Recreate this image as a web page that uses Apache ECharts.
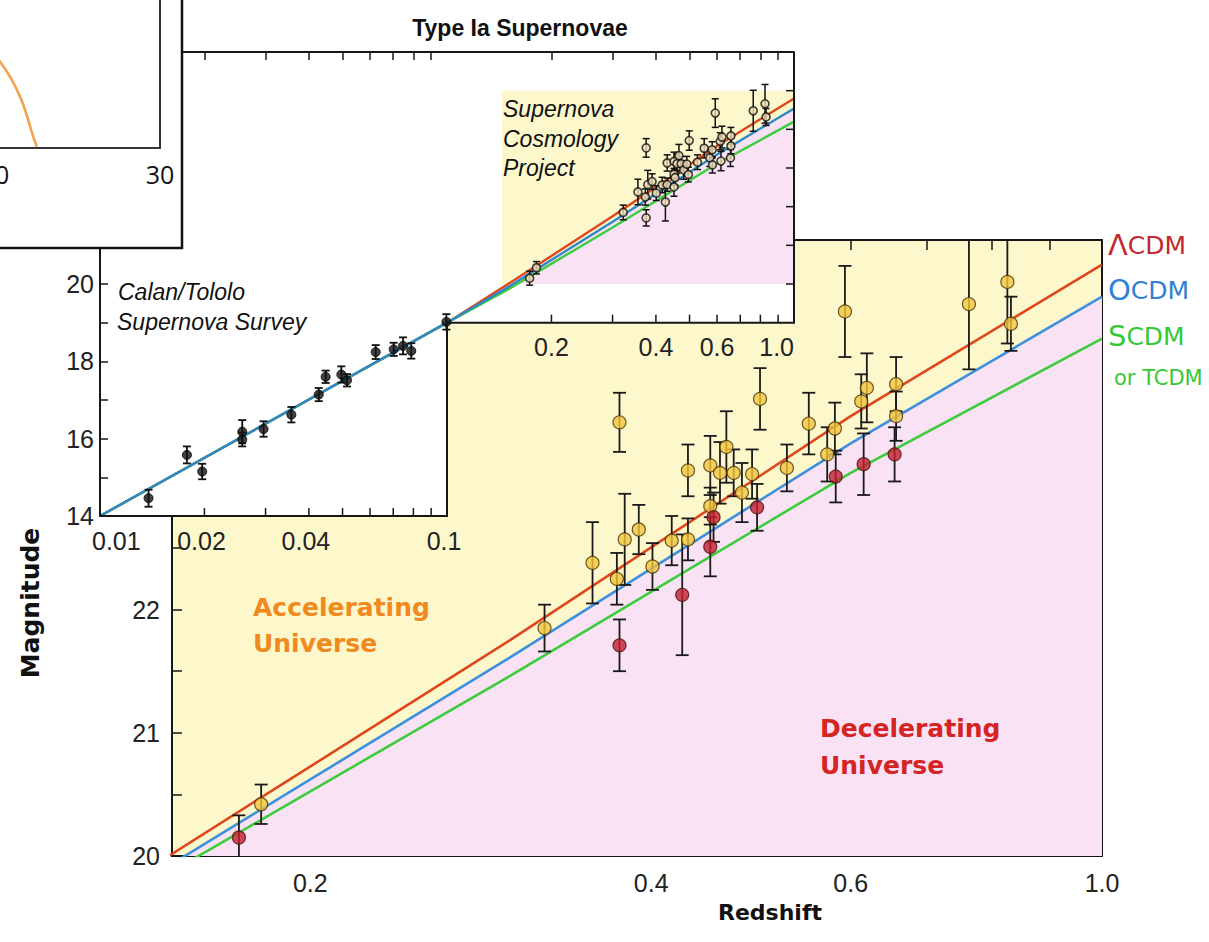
<!DOCTYPE html>
<html><head><meta charset="utf-8">
<script src="https://cdn.jsdelivr.net/npm/echarts@6/dist/echarts.min.js"></script>
<style>html,body{margin:0;padding:0;background:#fff;overflow:hidden}#c{width:1209px;height:942px}</style>
</head><body><div id="c"></div>
<script>
// ================= DATA =================
// main chart axes
const mainXTicks = [0.2, 0.3, 0.4, 0.5, 0.6, 0.7, 0.8, 0.9];
const mainXLabels = [0.2, 0.4, 0.6, 1.0];
const mainXLabelText = ['0.2', '0.4', '0.6', '1.0'];
const mainYTicks = [20.5, 21, 21.5, 22, 22.5, 23, 23.5, 24, 24.5];
const mainYLabels = [20, 21, 22, 23, 24];

// inset axes
const insetTopTicks = [0.02, 0.03, 0.04, 0.05, 0.06, 0.07, 0.08, 0.09, 0.2, 0.3, 0.4, 0.5, 0.6, 0.7, 0.8, 0.9];
const insetLowTicks = [0.02, 0.03, 0.04, 0.05, 0.06, 0.07, 0.08, 0.09];
const insetHighTicks = [0.2, 0.3, 0.4, 0.5, 0.6, 0.7, 0.8, 0.9];
const insetLowLabels = [0.01, 0.02, 0.04, 0.1];
const insetLowLabelText = ['0.01', '0.02', '0.04', '0.1'];
const insetHighLabels = [0.2, 0.4, 0.6, 1.0];
const insetHighLabelText = ['0.2', '0.4', '0.6', '1.0'];
const insetYTicks = [15, 16, 17, 18, 19, 20, 21, 22, 23, 24, 25];
const insetYLabels = [14, 16, 18, 20, 22, 24];
const insetRightTicks = [20, 21, 22, 23, 24, 25];
// inset outline (L shape) and shaded high-z window
const frameZ = [0.01, 1.0, 1.0, 0.1, 0.1, 0.01];
const frameM = [26, 26, 19, 19, 14, 14];
const shadeZ = [0.144, 1.0];
const shadeM = [20, 25];

// model curves
const modelZ = [0.01, 0.1, 0.15, 0.3, 0.6, 1.0];
const lambdaCDM = [14.0, 19.0, 20.0, 21.75, 23.57, 24.80];
const openCDM   = [14.0, 19.0, 19.92, 21.61, 23.35, 24.54];
const flatCDM   = [14.0, 19.0, 19.86, 21.46, 23.11, 24.20];

// high-redshift supernovae (yellow)
const scpZ   = [0.181, 0.322, 0.355, 0.373, 0.375, 0.379, 0.390, 0.401, 0.417, 0.431, 0.431, 0.451, 0.451, 0.460, 0.466, 0.473, 0.481, 0.491, 0.499, 0.527, 0.551, 0.572, 0.581, 0.593, 0.613, 0.620, 0.658, 0.658, 0.763, 0.825, 0.831];
const scpM   = [20.42, 21.85, 22.38, 22.25, 23.52, 22.57, 22.65, 22.35, 22.56, 22.57, 23.13, 22.84, 23.17, 23.11, 23.32, 23.11, 22.95, 23.10, 23.71, 23.15, 23.51, 23.26, 23.47, 24.42, 23.69, 23.80, 23.57, 23.83, 24.48, 24.66, 24.32];
const scpErr = [0.16, 0.19, 0.33, 0.21, 0.24, 0.37, 0.20, 0.19, 0.20, 0.17, 0.21, 0.15, 0.24, 0.25, 0.29, 0.19, 0.24, 0.20, 0.25, 0.19, 0.25, 0.22, 0.21, 0.37, 0.22, 0.28, 0.20, 0.22, 0.53, 0.50, 0.22];
// high-redshift supernovae (red)
const redZ   = [0.173, 0.375, 0.426, 0.451, 0.454, 0.496, 0.582, 0.616, 0.656];
const redM   = [20.15, 21.71, 22.12, 22.51, 22.75, 22.83, 23.08, 23.18, 23.26];
const redErr = [0.18, 0.21, 0.49, 0.24, 0.20, 0.19, 0.21, 0.25, 0.22];

// Calan/Tololo low-redshift supernovae
const ctZ   = [0.0138, 0.0178, 0.0197, 0.0257, 0.0257, 0.0296, 0.0356, 0.0427, 0.0447, 0.0496, 0.0515, 0.0623, 0.0702, 0.0747, 0.0789, 0.0996];
const ctM   = [14.46, 15.58, 15.15, 16.18, 15.98, 16.25, 16.62, 17.14, 17.60, 17.66, 17.51, 18.24, 18.31, 18.40, 18.27, 19.02];
const ctErr = [0.22, 0.22, 0.20, 0.30, 0.18, 0.20, 0.20, 0.17, 0.16, 0.21, 0.16, 0.18, 0.17, 0.22, 0.20, 0.20];

// top-left overlapping box (fragment of another plot)
const boxXTicks = [10, 20, 30];
const boxCurveX = [20.0, 20.30, 20.91, 21.52, 21.92, 22.22, 22.53];
const boxCurveY = [3.70, 3.48, 2.87, 2.07, 1.33, 0.66, 0.05];

// ================= STYLE =================
const L = Math.log10;
const YEL = '#fcf8cc', PINK = '#f9e2f3';
const C_RED = '#e0461c', C_BLUE = '#3d8fe0', C_GREEN = '#3ccc3c';
const INK = '#161616';
const TICKFONT = 'Liberation Sans';

const xy = (zs, ms) => zs.map((z, i) => [L(z), ms[i]]);
const xye = (zs, ms, es) => zs.map((z, i) => [L(z), ms[i], es[i]]);
const pick = (vals, texts) => v => { const i = vals.findIndex(t => Math.abs(L(t) - v) < 1e-6); return i >= 0 ? texts[i] : ''; };

function errBars(cap, width, color) {
  return function (params, api) {
    const x = api.value(0), y = api.value(1), e = api.value(2);
    const t = api.coord([x, y + e]), b = api.coord([x, y - e]);
    const st = { stroke: color, lineWidth: width };
    return { type: 'group', children: [
      { type: 'line', shape: { x1: t[0], y1: t[1], x2: b[0], y2: b[1] }, style: st },
      { type: 'line', shape: { x1: t[0] - cap, y1: t[1], x2: t[0] + cap, y2: t[1] }, style: st },
      { type: 'line', shape: { x1: b[0] - cap, y1: b[1], x2: b[0] + cap, y2: b[1] }, style: st }
    ] };
  };
}

function insetBackground(params, api) {
  const pts = frameZ.map((z, i) => api.coord([L(z), frameM[i]]));
  return { type: 'polygon', shape: { points: pts }, style: { fill: '#ffffff', stroke: null } };
}

function insetShade(params, api) {
  const a = api.coord([L(shadeZ[0]), shadeM[1]]);
  const b = api.coord([L(shadeZ[1]), shadeM[0]]);
  const pink = [api.coord([L(shadeZ[0]), shadeM[0]])];
  modelZ.forEach((z, i) => {
    if (z >= shadeZ[0]) pink.push(api.coord([L(z), Math.max(openCDM[i], shadeM[0])]));
  });
  pink.push(api.coord([L(shadeZ[1]), shadeM[0]]));
  return { type: 'group', children: [
    { type: 'rect', shape: { x: a[0], y: a[1], width: b[0] - a[0], height: b[1] - a[1] }, style: { fill: YEL } },
    { type: 'polygon', shape: { points: pink }, style: { fill: PINK } }
  ] };
}

function insetFrame(params, api) {
  const c = (z, m) => api.coord([L(z), m]);
  const pts = frameZ.map((z, i) => c(z, frameM[i]));
  const tk = { stroke: INK, lineWidth: 1.5 };
  const kids = [{ type: 'polyline', shape: { points: pts.slice(1) }, style: { stroke: INK, lineWidth: 2, fill: null } }];
  const lowM = frameM[4], highM = frameM[2], rightZ = frameZ[1];
  insetLowTicks.forEach(z => { const p = c(z, lowM); kids.push({ type: 'line', shape: { x1: p[0], y1: p[1], x2: p[0], y2: p[1] - 8 }, style: tk }); });
  insetHighTicks.forEach(z => { const p = c(z, highM); kids.push({ type: 'line', shape: { x1: p[0], y1: p[1], x2: p[0], y2: p[1] - 8 }, style: tk }); });
  insetRightTicks.forEach(m => { const p = c(rightZ, m); kids.push({ type: 'line', shape: { x1: p[0], y1: p[1], x2: p[0] - 8, y2: p[1] }, style: tk }); });
  const label = (z, m, text, align, dx) => {
    const p = c(z, m);
    kids.push({ type: 'text', x: p[0] + dx, y: p[1] + 12, style: { text: text, fill: '#222', font: '25px "' + TICKFONT + '"', align: align, verticalAlign: 'top' } });
  };
  insetLowLabels.forEach((z, i) => label(z, lowM, insetLowLabelText[i], i === 0 ? 'left' : 'center', i === 0 ? -8 : -3));
  insetHighLabels.forEach((z, i) => label(z, highM, insetHighLabelText[i], i === insetHighLabels.length - 1 ? 'right' : 'center', 0));
  return { type: 'group', children: kids };
}

const valueAxisBase = (extra) => Object.assign({
  type: 'value', splitLine: { show: false },
  axisLine: { show: true, onZero: false, lineStyle: { color: INK, width: 2 } }
}, extra);

const txt = (x, y, text, font, fill, extra) => Object.assign({
  type: 'text', x: x, y: y, z: 5,
  style: { text: text, font: font, fill: fill, align: 'left', verticalAlign: 'middle' }
}, extra || {});
const ctxt = (x, y, text, font, fill) => ({
  type: 'text', x: x, y: y, z: 5,
  style: { text: text, font: font, fill: fill, align: 'center', verticalAlign: 'middle' }
});
const modelLabel = (y, first, color) => ({
  type: 'text', x: 1108, y: y, z: 5,
  style: { text: '{a|' + first + '}{b|CDM}', fill: color, verticalAlign: 'middle', font: '25px "DejaVu Sans"',
    rich: { a: { fontSize: 29, fontFamily: 'DejaVu Sans', fill: color }, b: { fontSize: 25, fontFamily: 'DejaVu Sans', fill: color } } }
});

const option = {
  animation: false,
  backgroundColor: '#ffffff',
  grid: [
    { left: 172, top: 240, width: 930, height: 616, show: true, backgroundColor: YEL, borderWidth: 0, containLabel: false, outerBoundsMode: 'none', z: 0 },
    { left: 100, top: 52, width: 694, height: 464, show: false, containLabel: false, outerBoundsMode: 'none' },
    { left: -170, top: -100, width: 330, height: 248, show: true, backgroundColor: '#ffffff', borderColor: '#333', borderWidth: 2, containLabel: false, outerBoundsMode: 'none', z: 51 }
  ],
  xAxis: [
    valueAxisBase({ gridIndex: 0, position: 'bottom', min: L(0.151), max: 0,
      axisTick: { show: true, inside: true, length: 10, customValues: mainXTicks.map(L), lineStyle: { color: INK, width: 1.5 } },
      axisLabel: { show: true, customValues: mainXLabels.map(L), formatter: pick(mainXLabels, mainXLabelText), fontSize: 25, fontFamily: TICKFONT, color: '#222', margin: 14 } }),
    valueAxisBase({ gridIndex: 0, position: 'top', min: L(0.151), max: 0,
      axisTick: { show: true, inside: true, length: 10, customValues: mainXTicks.map(L), lineStyle: { color: INK, width: 1.5 } },
      axisLabel: { show: false } }),
    valueAxisBase({ gridIndex: 1, position: 'top', min: -2, max: 0, z: 15,
      axisTick: { show: true, inside: true, length: 8, customValues: insetTopTicks.map(L), lineStyle: { color: INK, width: 1.5 } },
      axisLabel: { show: false } }),
    valueAxisBase({ gridIndex: 2, position: 'bottom', min: 10, max: 30, interval: 10, z: 52,
      axisLine: { show: false }, axisTick: { show: false },
      axisLabel: { show: true, customValues: boxXTicks, fontSize: 25, fontFamily: 'Open Sans', color: '#111', margin: 13 } })
  ],
  yAxis: [
    valueAxisBase({ gridIndex: 0, position: 'left', min: 20, max: 25,
      axisTick: { show: true, inside: true, length: 10, customValues: mainYTicks, lineStyle: { color: INK, width: 1.5 } },
      axisLabel: { show: true, customValues: mainYLabels, fontSize: 25, fontFamily: TICKFONT, color: '#222', margin: 12 } }),
    valueAxisBase({ gridIndex: 0, position: 'right', min: 20, max: 25,
      axisTick: { show: true, inside: true, length: 10, customValues: mainYTicks, lineStyle: { color: INK, width: 1.5 } },
      axisLabel: { show: false } }),
    valueAxisBase({ gridIndex: 1, position: 'left', min: 14, max: 26, z: 15,
      axisTick: { show: true, inside: true, length: 8, customValues: insetYTicks, lineStyle: { color: INK, width: 1.5 } },
      axisLabel: { show: true, customValues: insetYLabels, fontSize: 25, fontFamily: TICKFONT, color: '#222', margin: 6 } }),
    valueAxisBase({ gridIndex: 2, min: 0, max: 10, show: false })
  ],
  series: [
    // ---- main chart ----
    { type: 'line', xAxisIndex: 0, yAxisIndex: 0, data: xy(modelZ, openCDM), symbol: 'none', silent: true, z: 1,
      lineStyle: { width: 0, opacity: 0 }, areaStyle: { color: PINK, opacity: 1, origin: 'start' } },
    { type: 'line', xAxisIndex: 0, yAxisIndex: 0, data: xy(modelZ, lambdaCDM), symbol: 'none', silent: true, z: 2, lineStyle: { color: C_RED, width: 2.6 } },
    { type: 'line', xAxisIndex: 0, yAxisIndex: 0, data: xy(modelZ, openCDM), symbol: 'none', silent: true, z: 2, lineStyle: { color: C_BLUE, width: 2.6 } },
    { type: 'line', xAxisIndex: 0, yAxisIndex: 0, data: xy(modelZ, flatCDM), symbol: 'none', silent: true, z: 2, lineStyle: { color: C_GREEN, width: 2.6 } },
    { type: 'custom', xAxisIndex: 0, yAxisIndex: 0, data: xye(scpZ, scpM, scpErr).concat(xye(redZ, redM, redErr)),
      renderItem: errBars(6.5, 1.8, '#1a1a1a'), encode: { x: 0, y: 1 }, clip: true, silent: true, z: 3 },
    { type: 'scatter', xAxisIndex: 0, yAxisIndex: 0, data: xy(scpZ, scpM), symbol: 'circle', symbolSize: 13, silent: true, z: 4,
      itemStyle: { color: '#f2c43c', borderColor: '#4a3208', borderWidth: 1.2 } },
    { type: 'scatter', xAxisIndex: 0, yAxisIndex: 0, data: xy(redZ, redM), symbol: 'circle', symbolSize: 13, silent: true, z: 4,
      itemStyle: { color: '#c41f2e', borderColor: '#4a1010', borderWidth: 1.2 } },

    // ---- inset ----
    { type: 'custom', xAxisIndex: 2, yAxisIndex: 2, data: [[0, 20]], renderItem: insetBackground, silent: true, z: 10 },
    { type: 'custom', xAxisIndex: 2, yAxisIndex: 2, data: [[0, 20]], renderItem: insetShade, silent: true, z: 11 },
    { type: 'line', xAxisIndex: 2, yAxisIndex: 2, data: xy(modelZ, lambdaCDM), symbol: 'none', silent: true, z: 12, lineStyle: { color: C_RED, width: 2.4 } },
    { type: 'line', xAxisIndex: 2, yAxisIndex: 2, data: xy(modelZ, flatCDM), symbol: 'none', silent: true, z: 12, lineStyle: { color: C_GREEN, width: 2.4 } },
    { type: 'line', xAxisIndex: 2, yAxisIndex: 2, data: xy(modelZ, openCDM), symbol: 'none', silent: true, z: 12, lineStyle: { color: '#2f88c8', width: 2.4 } },
    { type: 'custom', xAxisIndex: 2, yAxisIndex: 2, data: xye(scpZ, scpM, scpErr).concat(xye(redZ, redM, redErr)),
      renderItem: errBars(3.5, 1.5, '#111'), encode: { x: 0, y: 1 }, silent: true, z: 13 },
    { type: 'custom', xAxisIndex: 2, yAxisIndex: 2, data: xye(ctZ, ctM, ctErr),
      renderItem: errBars(4, 1.8, '#111'), encode: { x: 0, y: 1 }, silent: true, z: 13 },
    { type: 'scatter', xAxisIndex: 2, yAxisIndex: 2, data: xy(scpZ, scpM).concat(xy(redZ, redM)), symbol: 'circle', symbolSize: 8, silent: true, z: 14,
      itemStyle: { color: '#f2dfb8', borderColor: '#111', borderWidth: 1.6 } },
    { type: 'scatter', xAxisIndex: 2, yAxisIndex: 2, data: xy(ctZ, ctM), symbol: 'circle', symbolSize: 9, silent: true, z: 14,
      itemStyle: { color: '#111', borderColor: '#000', borderWidth: 1 } },
    { type: 'custom', xAxisIndex: 2, yAxisIndex: 2, data: [[0, 20]], renderItem: insetFrame, silent: true, z: 15 },

    // ---- top-left box fragment ----
    { type: 'line', xAxisIndex: 3, yAxisIndex: 3, data: boxCurveX.map((x, i) => [x, boxCurveY[i]]), symbol: 'none', smooth: true, silent: true, z: 53,
      lineStyle: { color: '#f0a24c', width: 2.6 } }
  ],
  graphic: [
    { type: 'rect', z: 50, shape: { x: -10, y: -10, width: 192, height: 258 }, style: { fill: '#ffffff', stroke: '#111', lineWidth: 2.5 } },
    ctxt(520, 28, 'Type Ia Supernovae', 'bold 23px "Liberation Sans"', '#111'),
    ctxt(770, 912, 'Redshift', 'bold 22px "DejaVu Sans"', '#111'),
    { type: 'text', x: 30, y: 603, rotation: Math.PI / 2, z: 5,
      style: { text: 'Magnitude', font: 'bold 25px "DejaVu Sans"', fill: '#111', align: 'center', verticalAlign: 'middle' } },
    txt(253, 607, 'Accelerating', 'bold 25px "DejaVu Sans"', '#f08a1e'),
    txt(253, 643, 'Universe', 'bold 25px "DejaVu Sans"', '#f08a1e'),
    txt(820, 728, 'Decelerating', 'bold 25px "DejaVu Sans"', '#d42424'),
    txt(820, 765, 'Universe', 'bold 25px "DejaVu Sans"', '#d42424'),
    Object.assign(txt(118, 292, 'Calan/Tololo', 'italic 23px "Liberation Sans"', '#111'), { z: 16 }),
    Object.assign(txt(117, 322, 'Supernova Survey', 'italic 23px "Liberation Sans"', '#111'), { z: 16 }),
    Object.assign(txt(503, 109, 'Supernova', 'italic 23px "Liberation Sans"', '#111'), { z: 16 }),
    Object.assign(txt(503, 139, 'Cosmology', 'italic 23px "Liberation Sans"', '#111'), { z: 16 }),
    Object.assign(txt(503, 168, 'Project', 'italic 23px "Liberation Sans"', '#111'), { z: 16 }),
    modelLabel(245, 'Λ', '#c4282c'),
    modelLabel(290, 'O', '#2f80d4'),
    modelLabel(336, 'S', '#36c836'),
    txt(1114, 378, 'or TCDM', '21px "DejaVu Sans"', '#36c836')
  ]
};

const chart = echarts.init(document.getElementById('c'), null, { renderer: 'svg', width: 1209, height: 942 });
chart.setOption(option);
</script>
</body></html>
